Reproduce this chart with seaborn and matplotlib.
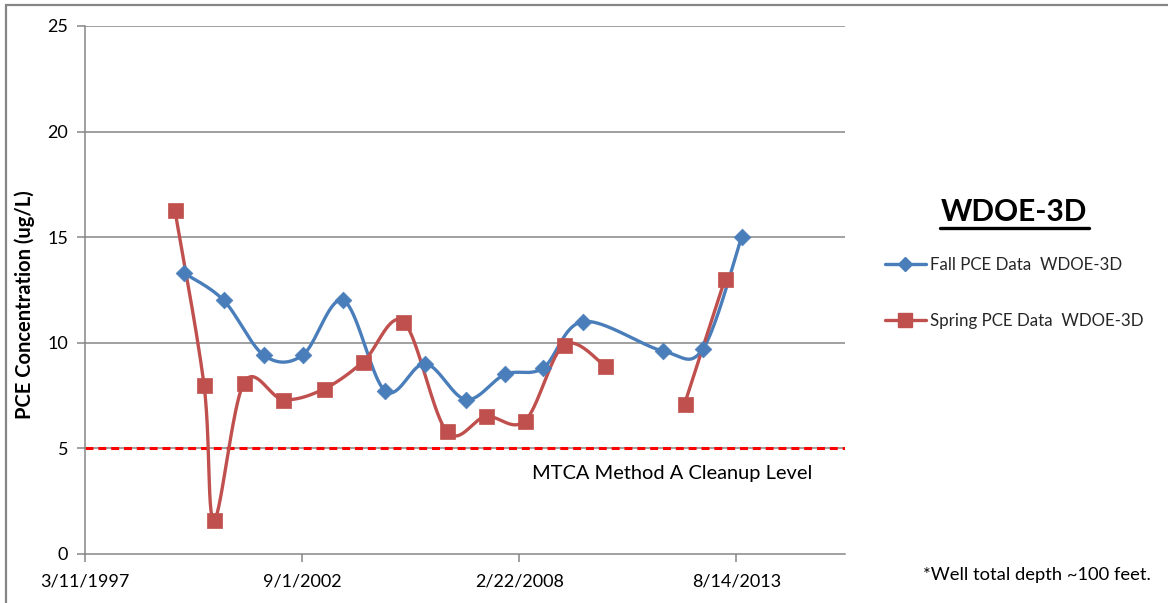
import numpy as np
import pandas as pd
import matplotlib
matplotlib.use("Agg")
import matplotlib.pyplot as plt
import matplotlib.dates as mdates
from matplotlib.lines import Line2D
from matplotlib.patches import Rectangle
import seaborn as sns

# ---------------- data ----------------
fall_dates = ["1999-09-06", "2000-09-09", "2001-09-14", "2002-09-05", "2003-09-16",
              "2004-10-06", "2005-10-09", "2006-10-19", "2007-10-15", "2008-09-29",
              "2009-10-02", "2011-10-07", "2012-10-09", "2013-10-01"]
fall_values = [13.3, 12.0, 9.4, 9.4, 12.0, 7.7, 9.0, 7.3, 8.5, 8.8, 11.0, 9.6, 9.7, 15.0]

spring_dates = ["1999-06-16", "2000-03-11", "2000-06-11", "2001-03-14", "2002-03-11",
                "2003-03-20", "2004-03-18", "2005-03-21", "2006-04-24", "2007-04-20",
                "2008-04-16", "2009-04-10", "2010-04-22", "2011-04-15", "2012-04-24",
                "2013-04-30"]
spring_values = [16.3, 8.0, 1.6, 8.1, 7.3, 7.8, 9.1, 11.0, 5.8, 6.5, 6.3, 9.9, 8.9,
                 np.nan, 7.1, 13.0]

cleanup_level = 5
x_tick_dates = ["1997-03-11", "2002-09-01", "2008-02-22", "2013-08-14"]
x_tick_labels = ["3/11/1997", "9/1/2002", "2/22/2008", "8/14/2013"]
y_ticks = [0, 5, 10, 15, 20, 25]
title = "WDOE-3D"
fall_label = "Fall PCE Data  WDOE-3D"
spring_label = "Spring PCE Data  WDOE-3D"
ylabel = "PCE Concentration (ug/L)"
cleanup_text = "MTCA Method A Cleanup Level"
footnote = "*Well total depth ~100 feet."

# ---------------- style ----------------
sns.set_theme(style="white")
plt.rcParams["font.family"] = ["Lato", "DejaVu Sans"]

W, H = 1168, 603
fig = plt.figure(figsize=(W / 100, H / 100), dpi=100)
fig.patch.set_facecolor("white")

ax_l, ax_r, ax_t, ax_b = 85, 845, 26, 553.7
ax = fig.add_axes([ax_l / W, 1 - ax_b / H, (ax_r - ax_l) / W, (ax_b - ax_t) / H])
ax.set_facecolor("white")

BLUE = "#4A7EBB"
RED = "#C0504D"
GRAY = "#868686"

x0 = mdates.date2num(pd.Timestamp(x_tick_dates[0]))
xmin, xmax = x0, x0 + 7000
ymin, ymax = 0, 25
sx = (ax_r - ax_l) / (xmax - xmin)
sy = (ax_b - ax_t) / (ymax - ymin)


def smooth(xs, ys, n=40):
    """Excel-style smoothed line (Catmull-Rom Bezier) computed in screen space."""
    P = np.column_stack([np.asarray(xs) * sx, np.asarray(ys) * sy])
    m = len(P)
    if m < 2:
        return np.asarray(xs), np.asarray(ys)
    out = [P[0]]
    t = np.linspace(0, 1, n)[1:, None]
    for i in range(m - 1):
        p0 = P[max(i - 1, 0)]
        p1 = P[i]
        p2 = P[i + 1]
        p3 = P[min(i + 2, m - 1)]
        c1 = p1 + (p2 - p0) / 6
        c2 = p2 - (p3 - p1) / 6
        seg = ((1 - t) ** 3) * p1 + 3 * ((1 - t) ** 2) * t * c1 + 3 * (1 - t) * t ** 2 * c2 + t ** 3 * p2
        out.extend(seg)
    out = np.array(out)
    return out[:, 0] / sx, out[:, 1] / sy


def draw_series(dates, values, color, marker, msize):
    xn = mdates.date2num(pd.to_datetime(dates))
    vals = np.asarray(values, dtype=float)
    seg_x, seg_y = [], []
    segments = []
    for xv, yv in zip(xn, vals):
        if np.isnan(yv):
            if seg_x:
                segments.append((seg_x, seg_y))
            seg_x, seg_y = [], []
        else:
            seg_x.append(xv)
            seg_y.append(yv)
    if seg_x:
        segments.append((seg_x, seg_y))
    for sxs, sys_ in segments:
        cx, cy = smooth(sxs, sys_)
        sns.lineplot(x=cx, y=cy, ax=ax, color=color, lw=2.4, sort=False,
                     estimator=None, zorder=3)
    ok = ~np.isnan(vals)
    sns.scatterplot(x=xn[ok], y=vals[ok], ax=ax, marker=marker, s=msize ** 2,
                    color=color, edgecolor=color, linewidth=0.5, zorder=4)


for yv in y_ticks[1:]:
    ax.axhline(yv, color=GRAY, lw=1.1, zorder=1)

draw_series(fall_dates, fall_values, BLUE, "D", 8.5)
draw_series(spring_dates, spring_values, RED, "s", 10.8)

ax.axhline(cleanup_level, color="#FF0000", lw=2.2, ls=(0, (2.6, 1.6)), zorder=2)

ax.set_xlim(xmin, xmax)
ax.set_ylim(ymin, ymax)
ax.set_xticks(mdates.date2num(pd.to_datetime(x_tick_dates)))
ax.set_xticklabels(x_tick_labels)
ax.set_yticks(y_ticks)
ax.set_yticklabels([str(v) for v in y_ticks])
ax.tick_params(axis="both", which="major", length=6, width=1.1, color=GRAY,
               labelsize=13, labelcolor="black", direction="out")
ax.tick_params(axis="x", pad=8)
ax.tick_params(axis="y", pad=6)
ax.xaxis.set_ticks_position("bottom")
ax.yaxis.set_ticks_position("left")
for s in ["top", "right"]:
    ax.spines[s].set_visible(False)
for s in ["left", "bottom"]:
    ax.spines[s].set_color(GRAY)
    ax.spines[s].set_linewidth(1.1)
ax.set_xlabel("")
ax.set_ylabel("")

fig.text(25 / W, 1 - 305 / H, ylabel, rotation=90, ha="center", va="center",
         fontsize=14.5, fontweight="bold", color="black")
fig.text(532 / W, 1 - 473 / H, cleanup_text, ha="left", va="center",
         fontsize=14.4, color="black")
fig.text(1014 / W, 1 - 212 / H, title, ha="center", va="center",
         fontsize=21.5, fontweight="bold", color="black")
fig.add_artist(Line2D([940 / W, 1089 / W], [1 - 228 / H, 1 - 228 / H],
                      transform=fig.transFigure, color="black", lw=2.4))
fig.text(923 / W, 1 - 575 / H, footnote, ha="left", va="center",
         fontsize=13.2, color="black")

handles = [Line2D([], [], color=BLUE, lw=2.4, marker="D", markersize=7.5),
           Line2D([], [], color=RED, lw=2.4, marker="s", markersize=9.5)]
fig.legend(handles, [fall_label, spring_label], loc="upper left",
           bbox_to_anchor=(885 / W, 1 - 257 / H), bbox_transform=fig.transFigure,
           frameon=False, fontsize=12.2, handlelength=2.4, handletextpad=0.25,
           labelspacing=2.35, borderpad=0, borderaxespad=0)

fig.add_artist(Rectangle((6 / W, -0.1), 1.2, 1 - 5 / H + 0.1, transform=fig.transFigure,
                         fill=False, edgecolor=GRAY, lw=1.6))

fig.savefig("out.png", dpi=100, facecolor="white")
